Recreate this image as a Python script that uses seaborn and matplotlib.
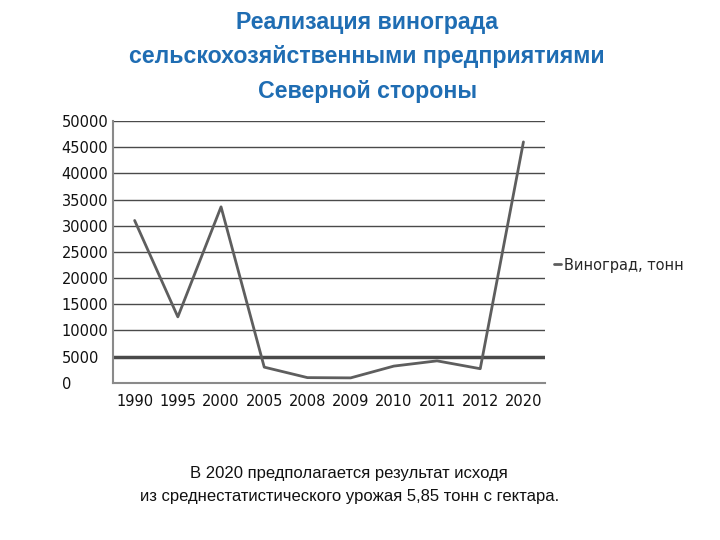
import matplotlib
matplotlib.use("Agg")
import matplotlib.pyplot as plt
import seaborn as sns
import pandas as pd
import numpy as np

years = ["1990", "1995", "2000", "2005", "2008", "2009", "2010", "2011", "2012", "2020"]
tonnes = [31000, 12600, 33600, 3000, 1000, 950, 3200, 4200, 2700, 46000]
series_name = "Виноград, тонн"
title = "Реализация винограда\nсельскохозяйственными предприятиями\nСеверной стороны"
note = "В 2020 предполагается результат исходя\nиз среднестатистического урожая 5,85 тонн с гектара."

sns.set_style("white")
plt.rcParams['font.family'] = ['DejaVu Sans']

df = pd.DataFrame({"year": years, "value": tonnes, "series": series_name})

fig = plt.figure(figsize=(7.2, 5.4), dpi=100)
ax = fig.add_axes([0.157, 0.291, 0.600, 0.485])

sns.lineplot(data=df, x="year", y="value", hue="series", palette=["#5e5e5e"],
             linewidth=2, ax=ax, sort=False, legend=True)

ax.set_ylim(0, 50000)
ax.set_xlim(-0.5, len(years) - 0.5)
ax.set_yticks(np.arange(0, 50001, 5000))
ax.yaxis.grid(True, color="#4a4a4a", linewidth=1)
ax.set_axisbelow(True)
ax.axhline(5000, color="#4a4a4a", linewidth=2.5, zorder=0)
ax.set_xlabel("")
ax.set_ylabel("")
for s in ["top", "right"]:
    ax.spines[s].set_visible(False)
for s in ["left", "bottom"]:
    ax.spines[s].set_color("#8a8a8a")
    ax.spines[s].set_linewidth(1.5)

ax.tick_params(axis="x", which="major", length=0, labelsize=10.5, pad=8)
ax.set_xticks(np.arange(-0.5, len(years), 1.0), minor=True)
ax.tick_params(axis="x", which="minor", length=5, color="#8a8a8a", direction="out")
ax.tick_params(axis="y", length=4, color="#8a8a8a", direction="out", labelsize=10.5, pad=33)
ax.set_yticklabels([str(v) for v in range(0, 50001, 5000)])
for lbl in ax.get_yticklabels():
    lbl.set_horizontalalignment("left")
for lbl in ax.get_xticklabels() + ax.get_yticklabels():
    lbl.set_color("#111111")

leg = ax.legend(loc="center left", bbox_to_anchor=(0.99, 0.45), frameon=False,
                handlelength=0.5, handletextpad=0.2, fontsize=10.5)

fig.text(0.51, 0.98, title, ha="center", va="top", color="#1f6db3",
         fontsize=16.7, fontweight="bold", family=["Liberation Sans", "DejaVu Sans"],
         linespacing=1.65)
fig.text(0.485, 0.102, note, ha="center", va="center", color="#111111",
         fontsize=12, family=["Liberation Sans Narrow", "Liberation Sans", "DejaVu Sans"],
         linespacing=1.7)

fig.savefig("out.png", dpi=100)
